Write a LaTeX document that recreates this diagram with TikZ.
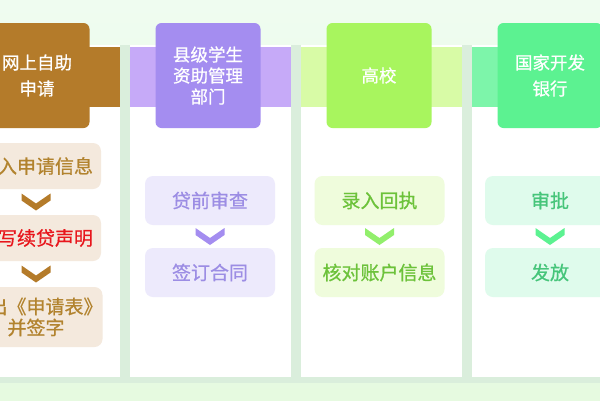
\documentclass[tikz,border=0pt]{standalone}
\usepackage{fontspec}
\setmainfont{Noto Sans CJK SC}[FakeBold=0.7]
\usetikzlibrary{calc}

\definecolor{bgtop}{HTML}{EFFCF0}
\definecolor{bgbottom}{HTML}{E6FAE0}
\definecolor{gapgreen}{HTML}{DAEEDC}
% column 1
\definecolor{brownhead}{HTML}{B47B2A}
\definecolor{brownbox}{HTML}{F4E9DD}
\definecolor{browntext}{HTML}{B2832E}
\definecolor{redtext}{HTML}{E8161C}
% column 2
\definecolor{purplehead}{HTML}{A48DF0}
\definecolor{purpleband}{HTML}{C6AAF8}
\definecolor{purplebox}{HTML}{EDEAFC}
\definecolor{purpletext}{HTML}{9C8DE4}
% column 3
\definecolor{limehead}{HTML}{A8F55E}
\definecolor{limeband}{HTML}{D8FBA6}
\definecolor{limebox}{HTML}{EFFCDC}
\definecolor{limetext}{HTML}{6CC23A}
\definecolor{limechev}{HTML}{92EF6C}
% column 4
\definecolor{minthead}{HTML}{5CF291}
\definecolor{mintband}{HTML}{7DF5AA}
\definecolor{mintbox}{HTML}{DFFBEC}
\definecolor{minttext}{HTML}{46C57A}

\tikzset{
  head/.style={rounded corners=6pt, minimum width=105pt, minimum height=105pt,
    text=white, align=center, inner sep=0pt},
  stepbox/.style={rounded corners=8pt, minimum width=130pt, minimum height=49pt,
    align=center, inner sep=0pt, font=\fontsize{19}{21}\selectfont}
}

% chevron halfway between two steps
\newcommand\stepchev[3]{%
  \fill[#3] ($(#1.south)!0.5!(#2.north)$) ++(-14.5,-8.5) -- ++(14.5,10)
    -- ++(14.5,-10) -- ++(0,7) -- ++(-14.5,10) -- ++(-14.5,-10) -- cycle;}

\begin{document}
\begin{tikzpicture}[x=1pt,y=-1pt]
\useasboundingbox (0,0) rectangle (600,400);
\shade[top color=bgtop, bottom color=bgbottom] (0,0) rectangle (600,400);

% panels
\fill[gapgreen] (-50,45) rectangle (650,383);
\foreach \c in {37,208,379,550}
  \fill[white] (\c-78,45) rectangle (\c+83,377);

% bands beside the headers
\fill[brownhead] (-41,47) rectangle (120,107);
\fill[purpleband] (130,47) rectangle (291,107);
\fill[limeband] (301,47) rectangle (462,107);
\fill[mintband] (472,47) rectangle (633,107);

% headers
\node[head, fill=brownhead, font=\fontsize{17.5}{26}\selectfont] (online) at (37,75.5)
	{网上自助\\申请};
\node[head, fill=purplehead, font=\fontsize{17.5}{21}\selectfont] (county) at (208,75.5)
	{县级学生\\资助管理\\部门};
\node[head, fill=limehead, font=\fontsize{17.5}{26}\selectfont] (college) at (379,75.5)
	{高校};
\node[head, fill=minthead, font=\fontsize{17.5}{26}\selectfont] (bank) at (550,75.5)
	{国家开发\\银行};

% steps
\node[stepbox, fill=brownbox, text=browntext, minimum height=46pt] (enter) at (36,166)
	{录入申请信息};
\node[stepbox, fill=brownbox, text=redtext, minimum height=46pt] (declare) at (36,238)
	{填写续贷声明};
\node[stepbox, fill=brownbox, text=browntext, minimum height=60pt] (export) at (36,317)
	{导出《申请表》\\并签字};

\node[stepbox, fill=purplebox, text=purpletext] (review) at (210,200.5)
	{贷前审查};
\node[stepbox, fill=purplebox, text=purpletext] (contract) at (210,272.5)
	{签订合同};

\node[stepbox, fill=limebox, text=limetext] (receipt) at (379.5,200.5)
	{录入回执};
\node[stepbox, fill=limebox, text=limetext] (account) at (379.5,272.5)
	{核对账户信息};

\node[stepbox, fill=mintbox, text=minttext] (approve) at (550,200.5)
	{审批};
\node[stepbox, fill=mintbox, text=minttext] (grant) at (550,272.5)
	{发放};

\stepchev{enter}{declare}{brownhead}
\stepchev{declare}{export}{brownhead}
\stepchev{review}{contract}{purplehead}
\stepchev{receipt}{account}{limechev}
\stepchev{approve}{grant}{minthead}
\end{tikzpicture}
\end{document}
